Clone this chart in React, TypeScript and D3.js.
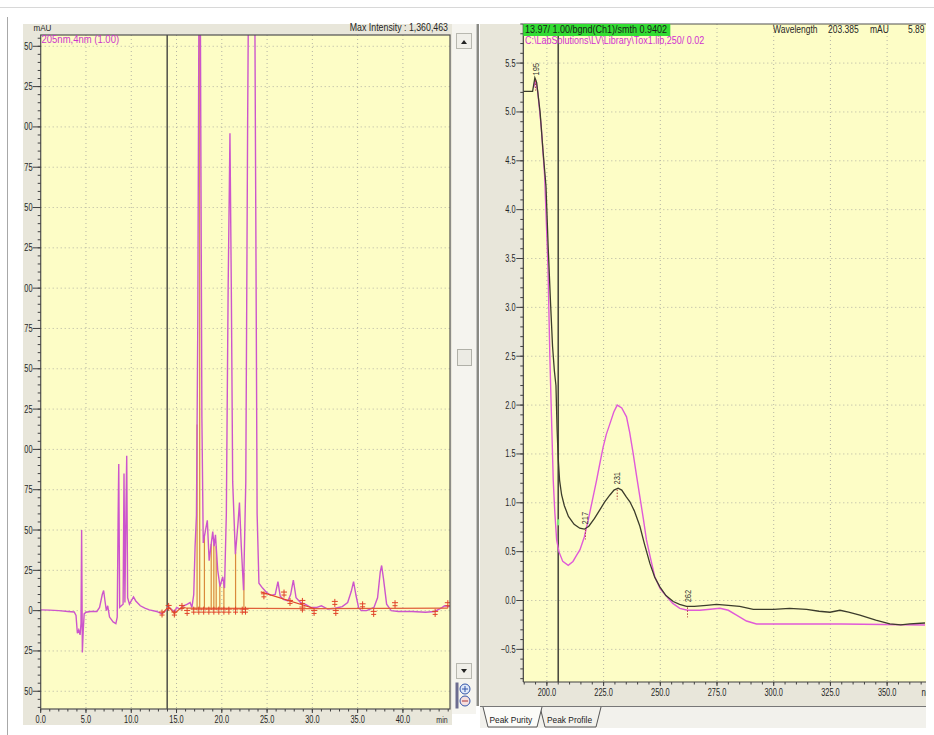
import * as d3 from "d3";

// chromatogram, 205 nm (min / mAU)
const chromTime = [
  0, 1, 2, 3, 3.7, 3.9, 4.05, 4.2, 4.35, 4.45, 4.52, 4.6, 4.7, 4.8, 5, 5.5, 6.2, 6.5, 6.8, 6.95,
  7.1, 7.25, 7.4, 7.6, 8, 8.3, 8.45, 8.55, 8.62, 8.72, 8.9, 9.1, 9.2, 9.3, 9.42, 9.5, 9.6, 9.8, 10,
  10.25, 10.5, 11, 11.5, 12, 12.8, 13.4, 13.8, 14.1, 14.4, 14.8, 15, 15.4, 15.8, 16.2, 16.5, 16.7,
  16.9, 17.05, 17.2, 17.35, 17.5, 17.6, 17.7, 17.8, 17.95, 18.2, 18.4, 18.6, 18.8, 19, 19.15, 19.3,
  19.55, 19.8, 20.1, 20.3, 20.5, 20.7, 20.9, 21.05, 21.2, 21.5, 21.8, 21.95, 22.15, 22.4, 22.65,
  22.85, 23, 23.6, 23.75, 23.9, 24.1, 24.5, 25, 25.4, 25.9, 26.2, 26.45, 26.8, 27.3, 27.6, 27.9,
  28.2, 28.7, 29.2, 29.8, 30.5, 31, 31.7, 32.5, 33.3, 33.9, 34.3, 34.55, 34.8, 35.1, 35.4, 36,
  36.8, 37.2, 37.5, 37.65, 37.85, 38.2, 38.7, 39.5, 41, 42.5, 43.5, 44.2, 44.6, 45.2,
];
const chromAbs = [
  0.5, 0.3, 0, -0.5, -0.8, -3, -14, -12, -15, -8, 50, -26, -12, -2, -1, -0.5, -0.5, 2, 10, 12.5,
  6, 0, 3, -4, -7, -8, -4, 58, 91, 2, 3, 4, 85, 5, 64, 96, 8, 4, 6,
  8.5, 6, 3, 1.5, 0.5, -0.5, -2, 0, 2.5, 1, -1, 2, 1, 3, 4, 5, 2,
  10, 40, 59, 180, 420, 420, 270, 120, 42, 50, 56, 31, 40, 49, 40, 47,
  25, 15, 21, 14, 60, 200, 296, 200, 80, 35, 55, 67, 40, 12.6, 80,
  300, 430, 430, 250, 60, 17, 14, 11, 9.5, 10, 18, 9, 7, 6, 10, 19,
  8, 5, 4, 2, 2, 3, 1, 1.5, 2.5, 5, 12, 18, 10, 2, 0, 0,
  2, 8, 24, 28, 20, 4, 0, -0.5, -0.5, -1, -0.5, 1.5, 3, 2.5,
];

// integration: drop lines, peak start/end marks, baselines
const dropTime = [17.27, 17.56, 18.08, 18.83, 19.12, 19.38, 19.78, 20.23, 21.52, 22.44];
const markTime = [
  13.4, 14.13, 14.76, 15.6, 16.17, 16.9, 17.46, 18.0, 18.57, 19.12, 19.67, 20.23, 20.78, 21.52,
  22.26, 22.62, 24.65, 26.87, 27.53, 28.9, 28.9, 30.19, 32.48, 32.59, 35.55, 36.77, 39.13, 43.56, 44.96,
];
const markAbs = [
  -1.8, 2.3, -1.8, 2.3, -0.8, 0, 0, 0, 0, 0, 0, 0, 0, 0,
  0, 0, 9.5, 10.6, 5.4, 5.4, 1.3, -0.8, 4.8, -0.8, 3.3, -1.4, 4, -1.4, 4,
];
const baseTime = [13.4, 14.13, 14.76, 15.6, 16.17, 30.19, 44.96];
const baseAbs = [-1.8, 2.3, -1.8, 2.3, 1.5, 1.3, 1.5];
const skimTime = [24.3, 30.19];
const skimAbs = [11.6, 1.3];

const chromXTicks = [0, 5, 10, 15, 20, 25, 30, 35, 40];
const chromYTicks = [-50, -25, 0, 25, 50, 75, 100, 125, 150, 175, 200, 225, 250, 275, 300, 325, 350];
const cursorTime = 13.97;

// spectra (nm / mAU)
const sampleNm = [
  189.6, 193.7, 194.7, 195.5, 197, 198.3, 199.6, 200.6, 201.6, 202.5, 203.3, 204, 204.5, 205, 205.6,
  206.5, 207.7, 209.5, 212, 214.5, 216.5, 218.5, 221, 223.4, 225.5, 227.8, 229.6, 231.4, 233, 235,
  236.6, 238.5, 241, 243, 245.4, 247.5, 249.8, 252.5, 255.7, 258.5, 261.6, 265, 270.4, 274.8, 280,
  285, 291, 300, 307, 314.5, 320, 324.8, 329.2, 333, 338, 345, 351.2, 356, 360, 366.7,
];
const sampleAbs = [
  5.21, 5.21, 5.35, 5.3, 5.0, 4.6, 4.24, 3.6, 3.05, 2.6, 2.35, 2.2, 1.75, 1.45, 1.23,
  1.08, 0.97, 0.86, 0.78, 0.74, 0.73, 0.76, 0.84, 0.93, 1.01, 1.08, 1.13, 1.15, 1.13, 1.06,
  1.01, 0.92, 0.76, 0.58, 0.38, 0.24, 0.14, 0.05, -0.01, -0.04, -0.06, -0.06, -0.05, -0.04, -0.05,
  -0.06, -0.09, -0.09, -0.08, -0.09, -0.11, -0.12, -0.1, -0.12, -0.15, -0.2, -0.24, -0.25, -0.24, -0.23,
];
const libNm = [
  194.2, 195, 196, 197.5, 199, 200.5, 201.3, 202, 202.8, 203.5, 204.3, 205.3, 207, 209.4, 211.5, 213,
  214.6, 216.5, 218.2, 220, 221.9, 223.5, 224.8, 226.2, 227.8, 229.5, 231, 233, 235.1, 236.5, 238,
  239.5, 241, 242.5, 243.9, 245.8, 247.6, 250, 252.8, 255.5, 258.6, 262, 267.5, 272, 276.3, 280,
  283.6, 288, 292.4, 300, 330, 366.7,
];
const libAbs = [
  5.25, 5.33, 5.2, 4.85, 4.35, 3.4, 2.5, 1.9, 1.23, 0.9, 0.62, 0.5, 0.4, 0.36, 0.4, 0.46,
  0.52, 0.65, 0.82, 1.02, 1.23, 1.42, 1.57, 1.7, 1.81, 1.93, 2.0, 1.97, 1.88, 1.72, 1.51,
  1.28, 1.06, 0.84, 0.62, 0.42, 0.24, 0.12, 0.04, -0.03, -0.08, -0.1, -0.1, -0.09, -0.08, -0.1,
  -0.15, -0.21, -0.24, -0.24, -0.24, -0.25,
];
const peakNm = [195, 217, 231, 262];
const specXTicks = [200, 225, 250, 275, 300, 325, 350];
const specYTicks = [-0.5, 0, 0.5, 1, 1.5, 2, 2.5, 3, 3.5, 4, 4.5, 5, 5.5];
const cursorNm = 205;

const FONT = "'Liberation Sans', Arial, sans-serif";
const YELLOW = "#fdfdc6";
const PANEL = "#e8e6da";
const GRID = "#b4b4a4";
const INK = "#262626";
const fmt1 = d3.format(".1f");

function Label({ x, y, anchor = "start", size = 10, fill = INK, sx = 0.78, rotate = 0, children }: any) {
  return (
    <text
      transform={`translate(${x},${y}) rotate(${rotate}) scale(${sx},1)`}
      textAnchor={anchor}
      fontSize={size}
      fill={fill}
      fontFamily={FONT}
    >
      {children}
    </text>
  );
}

function Cross({ x, y }: { x: number; y: number }) {
  return (
    <path
      d={`M${x},${y - 4}V${y + 4}M${x - 3},${y - 1.5}H${x + 3}M${x - 2.5},${y + 1.5}H${x + 2.5}`}
      stroke="#e0442a"
      strokeWidth={1}
      fill="none"
    />
  );
}

function Chromatogram() {
  const x = d3.scaleLinear([0, 45.2], [40.7, 450]);
  const y = d3.scaleLinear([-61, 357], [709, 35]);
  const [x0, x1] = x.range();
  const [y1, y0] = y.range();
  const traceAt = d3.scaleLinear(chromTime, chromAbs);
  const trace = d3.line<number>().x((_, i) => x(chromTime[i])).y((d) => y(d));
  const base = d3.line<number>().x((_, i) => x(baseTime[i])).y((d) => y(d));
  const skim = d3.line<number>().x((_, i) => x(skimTime[i])).y((d) => y(d));
  const minorX = d3.range(0, 45.01, 1);
  const minorY = d3.range(-60, 356, 5);

  return (
    <g>
      <rect x={23} y={24} width={429} height={701} fill={PANEL} />
      <defs>
        <clipPath id="chromPlot">
          <rect x={x0} y={y0} width={x1 - x0} height={y1 - y0} />
        </clipPath>
        <clipPath id="chromYLabels">
          <rect x={24} y={24} width={20} height={700} />
        </clipPath>
      </defs>
      <rect x={x0} y={y0} width={x1 - x0} height={y1 - y0} fill={YELLOW} />
      {chromXTicks.slice(1).map((t) => (
        <line key={t} x1={x(t)} x2={x(t)} y1={y0} y2={y1} stroke={GRID} strokeDasharray="1,3" />
      ))}
      {chromYTicks.map((v) => (
        <line key={v} x1={x0} x2={x1} y1={y(v)} y2={y(v)} stroke={GRID} strokeDasharray="1,3" />
      ))}

      <g clipPath="url(#chromPlot)">
        <line x1={x(cursorTime)} x2={x(cursorTime)} y1={y0} y2={y1} stroke="#5a5a50" strokeWidth={1.6} />
        {dropTime.map((t) => (
          <line key={t} x1={x(t)} x2={x(t)} y1={y(1.5)} y2={y(traceAt(t))} stroke="#d98a3c" strokeWidth={1.2} />
        ))}
        <path d={trace(chromAbs) ?? ""} fill="none" stroke="#cc55cc" strokeWidth={1.4} />
        <path d={base(baseAbs) ?? ""} fill="none" stroke="#e0603a" strokeWidth={1.2} />
        <path d={skim(skimAbs) ?? ""} fill="none" stroke="#e0442a" strokeWidth={1.2} />
        {markTime.map((t, i) => (
          <Cross key={i} x={x(t)} y={y(markAbs[i])} />
        ))}
      </g>

      <rect x={x0} y={y0} width={x1 - x0} height={y1 - y0} fill="none" stroke="#505050" strokeWidth={1.2} />

      {minorY.map((v) => (
        <line key={v} x1={x0 - 3} x2={x0} y1={y(v)} y2={y(v)} stroke="#404040" />
      ))}
      {chromYTicks.map((v) => (
        <line key={v} x1={x0 - 8} x2={x0} y1={y(v)} y2={y(v)} stroke="#404040" />
      ))}
      <g clipPath="url(#chromYLabels)">
        {chromYTicks.map((v) => (
          <Label key={v} x={32.5} y={y(v) + 3.5} anchor="end" sx={0.74}>
            {v}
          </Label>
        ))}
      </g>
      {minorX.map((t) => (
        <line key={t} x1={x(t)} x2={x(t)} y1={y1} y2={y1 + 2.5} stroke="#404040" />
      ))}
      {chromXTicks.map((t) => (
        <line key={t} x1={x(t)} x2={x(t)} y1={y1} y2={y1 + 4} stroke="#404040" />
      ))}
      {chromXTicks.map((t) => (
        <Label key={t} x={x(t)} y={723} anchor="middle" sx={0.74}>
          {fmt1(t)}
        </Label>
      ))}
      <Label x={442} y={723} anchor="middle" size={9} sx={0.78}>min</Label>
      <Label x={33.5} y={31} size={9.5} sx={0.85}>mAU</Label>
      <Label x={448} y={31} anchor="end" size={10} sx={0.88}>Max Intensity : 1,360,463</Label>
      <Label x={41.5} y={43} size={10} sx={0.95} fill="#cc33cc">205nm,4nm (1.00)</Label>
    </g>
  );
}

function ScrollBar() {
  return (
    <g>
      <rect x={452} y={24} width={24} height={690} fill="#f5f4ef" />
      <rect x={456.5} y={33.5} width={15} height={15} fill="#f0efe9" stroke="#b8b8b0" />
      <path d="M461,44L467,44L464,40Z" fill="#222" />
      <rect x={457.5} y={349.5} width={14} height={16} fill="#ecebe4" stroke="#b0b0a8" />
      <rect x={456.5} y={663.5} width={15} height={15} fill="#f0efe9" stroke="#b8b8b0" />
      <path d="M461,669L467,669L464,673Z" fill="#222" />
      <rect x={455.5} y={682.5} width={3} height={26} fill="#6c6c90" />
      <circle cx={465} cy={689} r={5} fill="#dfe8f8" stroke="#3355aa" />
      <path d="M462,689H468M465,686V692" stroke="#3355aa" />
      <circle cx={465} cy={701} r={5} fill="#f5dede" stroke="#3355aa" />
      <path d="M462,701H468" stroke="#aa3333" />
      <rect x={476.5} y={24} width={2.5} height={682} fill="#8a8a84" />
    </g>
  );
}

function Spectrum() {
  const x = d3.scaleLinear([189.6, 366.7], [523.3, 925]);
  const y = d3.scaleLinear([-0.834, 5.9], [682, 24]);
  const [x0, x1] = x.range();
  const [y1, y0] = y.range();
  const sampleAt = d3.scaleLinear(sampleNm, sampleAbs);
  const sample = d3.line<number>().x((_, i) => x(sampleNm[i])).y((d) => y(d));
  const lib = d3.line<number>().x((_, i) => x(libNm[i])).y((d) => y(d));
  const minorX = d3.range(190, 366, 5);
  const minorY = d3.range(-0.8, 5.91, 0.1);

  return (
    <g clipPath="url(#rightPanel)">
      <defs>
        <clipPath id="rightPanel">
          <rect x={480} y={0} width={446} height={735} />
        </clipPath>
        <clipPath id="specPlot">
          <rect x={x0} y={y0} width={x1 - x0} height={y1 - y0} />
        </clipPath>
      </defs>
      <rect x={480} y={24} width={454} height={682} fill={PANEL} />
      <rect x={x0} y={y0} width={x1 - x0 + 10} height={y1 - y0} fill={YELLOW} />
      {specXTicks.map((t) => (
        <line key={t} x1={x(t)} x2={x(t)} y1={y0} y2={y1} stroke={GRID} strokeDasharray="1,3" />
      ))}
      {specYTicks.map((v) => (
        <line key={v} x1={x0} x2={x1} y1={y(v)} y2={y(v)} stroke={GRID} strokeDasharray="1,3" />
      ))}

      <g clipPath="url(#specPlot)">
        <line x1={x(cursorNm)} x2={x(cursorNm)} y1={y0} y2={y1} stroke="#4a4a40" strokeWidth={1.6} />
        <rect x={x(cursorNm) - 1} y={y(0.8) - 3} width={2} height={6} fill="#7ef07e" />
        <path d={lib(libAbs) ?? ""} fill="none" stroke="#e05ad8" strokeWidth={1.4} />
        <path d={sample(sampleAbs) ?? ""} fill="none" stroke="#3c3c2c" strokeWidth={1.3} />
        {peakNm.map((nm) => {
          const py = y(sampleAt(nm));
          return (
            <g key={nm}>
              <line x1={x(nm)} x2={x(nm)} y1={py + 1} y2={py + 11} stroke="#b04040" strokeDasharray="1.5,1.5" />
              <Label x={x(nm) + 3} y={py - 4} rotate={-90} size={9.5} sx={0.8} fill="#333">
                {nm}
              </Label>
            </g>
          );
        })}
      </g>

      <line x1={x0} x2={x1 + 5} y1={y0} y2={y0} stroke="#505050" strokeWidth={1.2} />
      <line x1={x0} x2={x0} y1={y0} y2={y1} stroke="#404040" strokeWidth={1.2} />
      <line x1={x0} x2={x1 + 5} y1={y1} y2={y1} stroke="#404040" strokeWidth={1.2} />
      {minorY.map((v) => (
        <line key={v} x1={x0 - 3} x2={x0} y1={y(v)} y2={y(v)} stroke="#404040" />
      ))}
      {specYTicks.map((v) => (
        <line key={v} x1={x0 - 7} x2={x0} y1={y(v)} y2={y(v)} stroke="#404040" />
      ))}
      {specYTicks.map((v) => (
        <Label key={v} x={515.5} y={y(v) + 3.5} anchor="end" sx={0.74}>
          {fmt1(v)}
        </Label>
      ))}
      {minorX.map((t) => (
        <line key={t} x1={x(t)} x2={x(t)} y1={y1} y2={y1 + 2.5} stroke="#404040" />
      ))}
      {specXTicks.map((t) => (
        <line key={t} x1={x(t)} x2={x(t)} y1={y1} y2={y1 + 4} stroke="#404040" />
      ))}
      {specXTicks.map((t) => (
        <Label key={t} x={x(t)} y={695.5} anchor="middle" sx={0.74}>
          {fmt1(t)}
        </Label>
      ))}
      <Label x={921.5} y={695.5} sx={0.78}>nm</Label>

      <rect x={x0} y={y0} width={147} height={12} fill="#33dd33" />
      <Label x={525} y={33} size={10} sx={0.9} fill="#1a1a1a">13.97/ 1.00/bgnd(Ch1)/smth 0.9402</Label>
      <Label x={525} y={43.5} size={10} sx={0.9} fill="#d030d0">C:\LabSolutions\LV\Library\Tox1.lib,250/ 0.02</Label>
      <Label x={773} y={33} size={10} sx={0.85}>Wavelength</Label>
      <Label x={828} y={33} size={10} sx={0.85}>203.385</Label>
      <Label x={870} y={33} size={10} sx={0.85}>mAU</Label>
      <Label x={908} y={33} size={10} sx={0.85}>5.89</Label>

      <rect x={480} y={706} width={454} height={22} fill="#f2f1ec" />
      <line x1={480} x2={934} y1={706.5} y2={706.5} stroke="#777" />
      <path d="M540,707L545,727L596,727L601,707" fill="#f2f1ec" stroke="#555" />
      <path d="M483,707L488,727L537,727L542,707" fill="#fbfbf8" stroke="#555" />
      <Label x={489.5} y={723} size={9.5} sx={0.88} fill="#222">Peak Purity</Label>
      <Label x={547} y={723} size={9.5} sx={0.88} fill="#222">Peak Profile</Label>
    </g>
  );
}

export default function App() {
  return (
    <svg
      width={934}
      height={735}
      style={{ position: "absolute", left: 0, top: 0, display: "block", background: "#fff" }}
    >
      <line x1={0} x2={934} y1={7.5} y2={7.5} stroke="#d8d8d8" />
      <line x1={7.5} x2={7.5} y1={17} y2={735} stroke="#a8a8a8" />
      <Chromatogram />
      <ScrollBar />
      <Spectrum />
    </svg>
  );
}
